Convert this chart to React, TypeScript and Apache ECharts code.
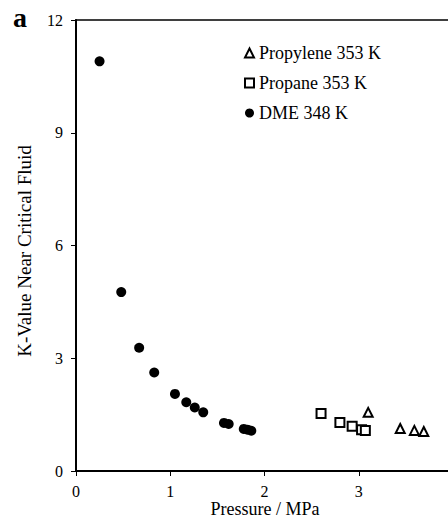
import React, { useEffect, useRef } from "react";
import * as echarts from "echarts";

const dmeX = [0.25, 0.48, 0.67, 0.83, 1.05, 1.17, 1.26, 1.35, 1.57, 1.62, 1.78, 1.82, 1.86];
const dmeY = [10.9, 4.76, 3.28, 2.62, 2.05, 1.83, 1.69, 1.56, 1.28, 1.25, 1.12, 1.1, 1.07];
const propaneX = [2.6, 2.8, 2.93, 3.03, 3.07];
const propaneY = [1.53, 1.29, 1.19, 1.1, 1.08];
const propyleneX = [3.1, 3.44, 3.59, 3.69];
const propyleneY = [1.56, 1.13, 1.08, 1.05];
const seriesNames = ["Propylene 353 K", "Propane 353 K", "DME 348 K"];
const xTicks = [0, 1, 2, 3, 4];
const yTicks = [0, 3, 6, 9, 12];

const FONT = "'Liberation Serif', 'DejaVu Serif', serif";

function pairs(xs: number[], ys: number[]) {
  return xs.map((x, i) => [x, ys[i]]);
}

export default function App() {
  const ref = useRef<HTMLDivElement>(null);
  useEffect(() => {
    if (!ref.current) return;
    const chart = echarts.init(ref.current, null, { renderer: "svg" });
    chart.setOption({
      animation: false,
      backgroundColor: "#fff",
      grid: {
        left: 76,
        top: 20,
        width: 377,
        height: 451,
        outerBoundsMode: "none",
        containLabel: false,
        show: true,
        borderColor: "#000",
        borderWidth: 1.5,
      },
      legend: {
        orient: "vertical",
        left: 244,
        top: 44,
        padding: 0,
        itemWidth: 9,
        itemHeight: 9,
        itemGap: 12,
        textStyle: { fontFamily: FONT, fontSize: 18, color: "#000", lineHeight: 18 },
        data: seriesNames,
      },
      xAxis: {
        type: "value",
        min: xTicks[0],
        max: xTicks[xTicks.length - 1],
        interval: 1,
        splitLine: { show: false },
        axisLine: { lineStyle: { color: "#000", width: 2 } },
        axisTick: { show: true, length: 5, lineStyle: { color: "#000" } },
        axisLabel: { fontFamily: FONT, fontSize: 16, color: "#000", margin: 12 },
      },
      yAxis: {
        type: "value",
        min: yTicks[0],
        max: yTicks[yTicks.length - 1],
        interval: 3,
        splitLine: { show: false },
        axisLine: { show: true, lineStyle: { color: "#000", width: 2 } },
        axisTick: { show: true, length: 5, lineStyle: { color: "#000" } },
        axisLabel: { fontFamily: FONT, fontSize: 16, color: "#000", margin: 13 },
      },
      graphic: [
        {
          type: "text",
          left: 13,
          top: 3,
          style: { text: "a", font: `bold 28px ${FONT}`, fill: "#000" },
        },
        {
          type: "text",
          x: 24,
          y: 251,
          rotation: Math.PI / 2,
          style: {
            text: "K-Value Near Critical Fluid",
            font: `19px ${FONT}`,
            fill: "#000",
            align: "center",
            verticalAlign: "middle",
          },
        },
        {
          type: "text",
          x: 265,
          y: 509,
          style: {
            text: "Pressure / MPa",
            font: `18px ${FONT}`,
            fill: "#000",
            align: "center",
            verticalAlign: "middle",
          },
        },
      ],
      series: [
        {
          name: seriesNames[0],
          type: "scatter",
          symbol: "triangle",
          symbolSize: 9,
          itemStyle: { color: "#fff", borderColor: "#000", borderWidth: 2, opacity: 1 },
          data: pairs(propyleneX, propyleneY),
        },
        {
          name: seriesNames[1],
          type: "scatter",
          symbol: "rect",
          symbolSize: 9,
          itemStyle: { color: "#fff", borderColor: "#000", borderWidth: 2, opacity: 1 },
          data: pairs(propaneX, propaneY),
        },
        {
          name: seriesNames[2],
          type: "scatter",
          symbol: "circle",
          symbolSize: 10,
          itemStyle: { color: "#000", opacity: 1 },
          data: pairs(dmeX, dmeY),
        },
      ],
    });
    return () => chart.dispose();
  }, []);
  return <div ref={ref} style={{ width: 448, height: 519, position: "absolute", left: 0, top: 0 }} />;
}
